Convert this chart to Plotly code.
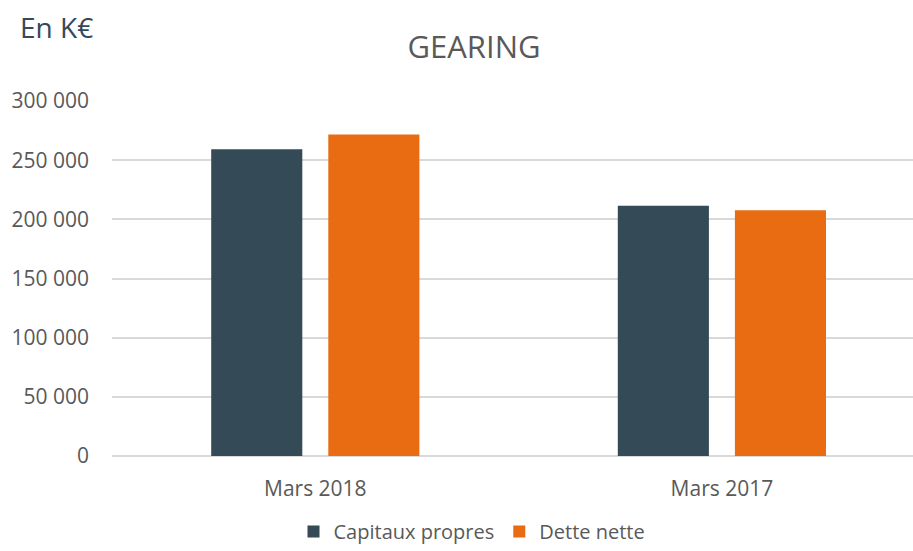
import plotly.graph_objects as go

categories = ["Mars 2018", "Mars 2017"]
capitaux_propres = [259200, 211400]
dette_nette = [271600, 207700]
tick_vals = [0, 50000, 100000, 150000, 200000, 250000, 300000]
tick_text = ["0", "50 000", "100 000", "150 000", "200 000", "250 000", "300 000"]

FONT = "Open Sans"
GRAY = "#595959"
W, H = 913, 551

fig = go.Figure()
fig.add_trace(go.Bar(name="Capitaux propres", x=categories, y=capitaux_propres,
                     marker=dict(color="#344A56", line=dict(width=0))))
fig.add_trace(go.Bar(name="Dette nette", x=categories, y=dette_nette,
                     marker=dict(color="#E96C12", line=dict(width=0))))

fig.update_layout(
    width=W, height=H,
    margin=dict(l=112, r=0, t=101, b=95, autoexpand=False),
    paper_bgcolor="white", plot_bgcolor="white",
    barmode="group", bargap=0.424, bargroupgap=0.222,
    font=dict(family=FONT, color=GRAY, size=21),
    title=dict(text="GEARING", x=474 / W, xref="container", xanchor="center",
               y=1 - 47 / H, yref="container", yanchor="middle",
               font=dict(size=31, color=GRAY, family=FONT)),
    showlegend=True,
    legend=dict(orientation="h", x=472 / W, xanchor="center", xref="container",
                y=-0.006, yref="container", yanchor="bottom",
                font=dict(size=20, color=GRAY), traceorder="normal",
                itemwidth=30, bgcolor="rgba(0,0,0,0)"),
    xaxis=dict(range=[-0.5, 1.47], showgrid=False, showline=False, ticks="",
               automargin=False, ticklabelstandoff=18,
               tickfont=dict(size=21, color=GRAY)),
    yaxis=dict(range=[0, 300000], tickvals=tick_vals, ticktext=tick_text,
               showgrid=True, gridcolor="#D9D9D9", gridwidth=1.5,
               zeroline=True, zerolinecolor="#D9D9D9", zerolinewidth=1.5,
               showline=False, ticks="", ticklabelstandoff=22, automargin=False,
               tickfont=dict(size=21, color=GRAY)),
)
fig.add_annotation(text="En K€", xref="paper", yref="paper",
                   x=(18 - 112) / 801, y=1 + (101 - 27) / 355,
                   xanchor="left", yanchor="middle", showarrow=False,
                   font=dict(size=28, color="#34495A", family=FONT))

fig.write_html("out.html", config={"displayModeBar": False},
               post_script="document.body.style.margin='0';")
